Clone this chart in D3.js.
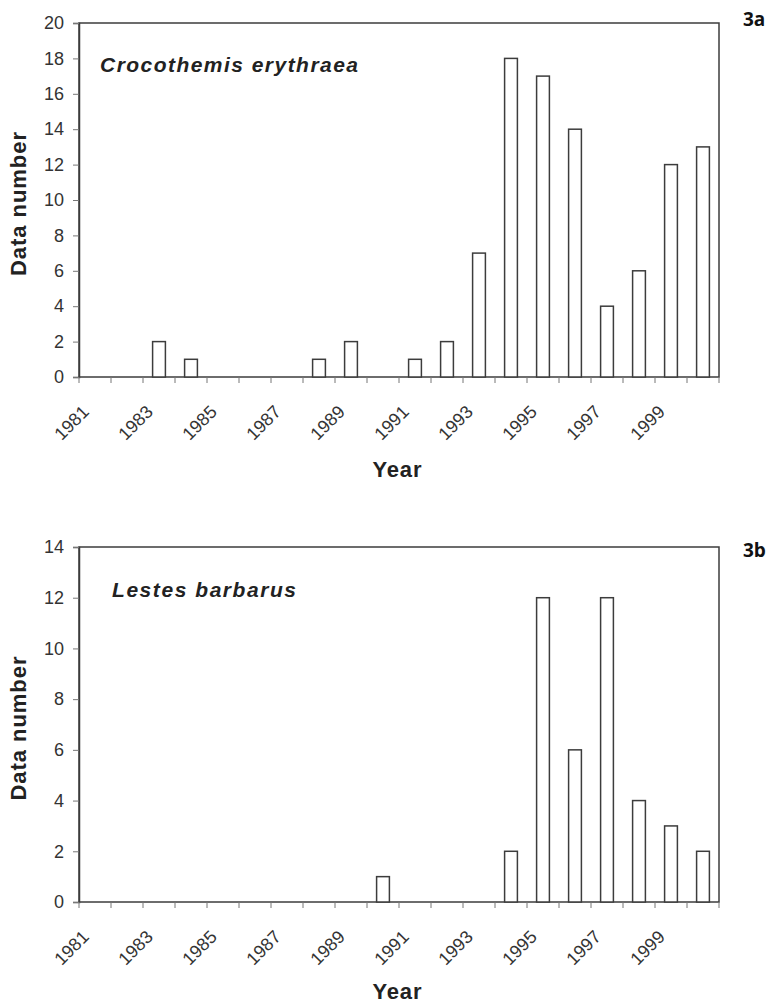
<!DOCTYPE html>
<html>
<head>
<meta charset="utf-8">
<script src="https://cdn.jsdelivr.net/npm/d3@7/dist/d3.min.js"></script>
<style>
  html, body { margin: 0; padding: 0; background: #fff; }
  svg { display: block; }
</style>
</head>
<body>
<svg id="chart" width="772" height="1004"></svg>
<script>
// ---- data ----
const years = [1981,1982,1983,1984,1985,1986,1987,1988,1989,1990,1991,1992,1993,1994,1995,1996,1997,1998,1999,2000];
const crocothemisValues = [0,0,2,1,0,0,0,1,2,0,1,2,7,18,17,14,4,6,12,13];
const lestesValues      = [0,0,0,0,0,0,0,0,0,1,0,0,0,2,12,6,12,4,3,2];
const yearTickLabels = [1981,1983,1985,1987,1989,1991,1993,1995,1997,1999];
const topYTicks = [0,2,4,6,8,10,12,14,16,18,20];
const bottomYTicks = [0,2,4,6,8,10,12,14];

const panels = [
  { name: "Crocothemis erythraea", tag: "3a", values: crocothemisValues, yMax: 20, yTicks: topYTicks,
    top: 23, bottom: 377, nameX: 100, nameY: 72, nameLen: 258, tagY: 26, yearY: 477 },
  { name: "Lestes barbarus", tag: "3b", values: lestesValues, yMax: 14, yTicks: bottomYTicks,
    top: 547, bottom: 902, nameX: 112, nameY: 597, nameLen: 184, tagY: 557, yearY: 999 }
];

const svg = d3.select("#chart");
const left = 79, right = 719;
const lineColor = "#3c3c3c";
const font = "'Liberation Sans', Arial, sans-serif";

const x = d3.scaleBand().domain(years).range([left, right]).padding(0);
const barW = x.bandwidth() * 0.4;

panels.forEach(p => {
  const g = svg.append("g");
  const y = d3.scaleLinear().domain([0, p.yMax]).range([p.bottom, p.top]);

  // frame
  g.append("rect")
    .attr("x", left).attr("y", p.top)
    .attr("width", right - left).attr("height", p.bottom - p.top)
    .attr("fill", "none").attr("stroke", lineColor).attr("stroke-width", 1.5);

  // bars
  g.selectAll("rect.bar").data(years.map((yr, i) => ({ yr, v: p.values[i] })).filter(d => d.v > 0))
    .enter().append("rect").attr("class", "bar")
    .attr("x", d => x(d.yr) + (x.bandwidth() - barW) / 2)
    .attr("y", d => y(d.v))
    .attr("width", barW)
    .attr("height", d => y(0) - y(d.v))
    .attr("fill", "#fff").attr("stroke", lineColor).attr("stroke-width", 1.5);

  // y axis
  const yAxis = d3.axisLeft(y).tickValues(p.yTicks).tickSize(6).tickPadding(9).tickFormat(d3.format("d"));
  const ya = g.append("g").attr("transform", `translate(${left},0)`).call(yAxis);
  ya.select(".domain").attr("stroke", lineColor).attr("stroke-width", 1.5);
  ya.selectAll(".tick line").attr("stroke", "#777").attr("stroke-width", 1);
  ya.selectAll(".tick text").attr("font-family", font).attr("font-size", 18).attr("fill", "#333");

  // x axis boundary ticks
  const boundaries = years.map(yr => x(yr)).concat([right]);
  g.selectAll("line.xt").data(boundaries).enter().append("line")
    .attr("x1", d => d).attr("x2", d => d)
    .attr("y1", p.bottom).attr("y2", p.bottom + 6)
    .attr("stroke", "#777").attr("stroke-width", 1);

  // x axis labels
  const xAxis = d3.axisBottom(x).tickValues(yearTickLabels).tickSize(0).tickFormat(d3.format("d"));
  const xa = g.append("g").attr("transform", `translate(0,${p.bottom})`).call(xAxis);
  xa.select(".domain").remove();
  xa.selectAll(".tick text")
    .attr("font-family", font).attr("font-size", 18).attr("fill", "#333")
    .attr("text-anchor", "end").attr("x", 0).attr("y", 0).attr("dy", 0)
    .attr("transform", "translate(-5,36) rotate(-45)");

  // axis titles
  g.append("text")
    .attr("transform", `translate(26,${(p.top + p.bottom) / 2 + 4}) rotate(-90)`)
    .attr("text-anchor", "middle")
    .attr("font-family", font).attr("font-weight", "bold").attr("font-size", 22)
    .attr("fill", "#222")
    .attr("textLength", 144).attr("lengthAdjust", "spacing")
    .text("Data number");

  g.append("text")
    .attr("x", 397).attr("y", p.yearY)
    .attr("text-anchor", "middle")
    .attr("font-family", font).attr("font-weight", "bold").attr("font-size", 22)
    .attr("fill", "#222")
    .attr("textLength", 49).attr("lengthAdjust", "spacing")
    .text("Year");

  // species name
  g.append("text")
    .attr("x", p.nameX).attr("y", p.nameY)
    .attr("font-family", font).attr("font-weight", "bold").attr("font-style", "italic")
    .attr("font-size", 21).attr("fill", "#222")
    .attr("textLength", p.nameLen).attr("lengthAdjust", "spacing")
    .text(p.name);

  // panel tag
  g.append("text")
    .attr("x", 743).attr("y", p.tagY)
    .attr("font-family", "'Open Sans', sans-serif").attr("font-weight", "bold")
    .attr("font-size", 19).attr("fill", "#111")
    .text(p.tag);
});
</script>
</body>
</html>
